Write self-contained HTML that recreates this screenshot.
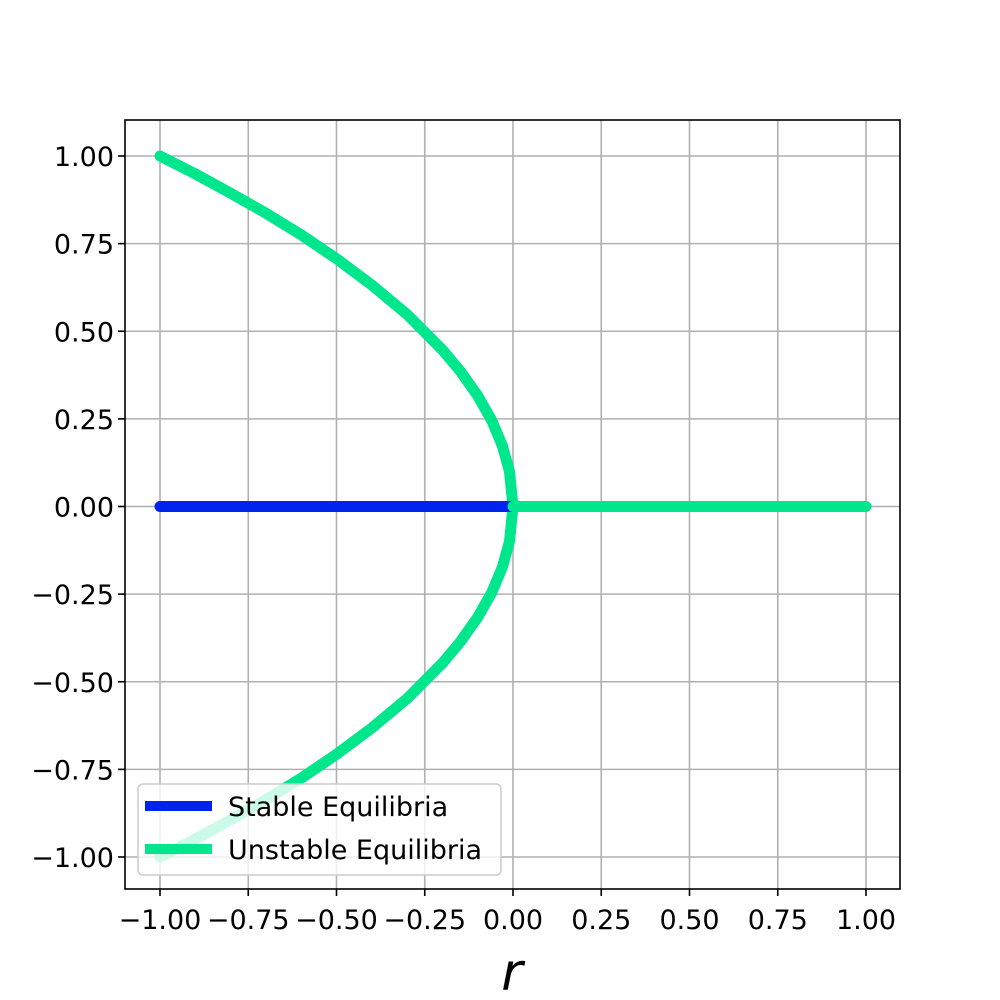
<!DOCTYPE html>
<html><head><meta charset="utf-8"><style>
body{margin:0;background:#fff}
svg{display:block;font-family:"DejaVu Sans","Liberation Sans",sans-serif}
</style></head><body>
<svg id="chart" width="1000" height="1000">
<rect width="1000" height="1000" fill="#fff"/>
<g id="grid"></g>
<g id="marks"></g>
<rect x="125" y="120" width="775" height="769" fill="none" stroke="#000" stroke-width="1.6"/>
<g id="ticks"></g>
<text x="512" y="990" font-size="52" font-style="italic" text-anchor="middle">r</text>
<g>
<rect x="138" y="784" width="363" height="91" rx="5" fill="#fff" fill-opacity="0.8" stroke="#ccc" stroke-width="1.5"/>
<line x1="145" y1="806" x2="212" y2="806" stroke="#0022ee" stroke-width="10"/>
<text x="228" y="816" font-size="27">Stable Equilibria</text>
<line x1="145" y1="849" x2="212" y2="849" stroke="#00e68c" stroke-width="10"/>
<text x="228" y="859" font-size="27">Unstable Equilibria</text>
</g>
</svg>
<script>
const tickVals = [-1,-0.75,-0.5,-0.25,0,0.25,0.5,0.75,1];
const tickLabels = ["\u22121.00","\u22120.75","\u22120.50","\u22120.25","0.00","0.25","0.50","0.75","1.00"];
const branchR = [-1,-0.9,-0.8,-0.7,-0.6,-0.5,-0.4,-0.3,-0.2,-0.15,-0.1,-0.06,-0.03,-0.01,0];
const branchX = [1,0.949,0.894,0.837,0.775,0.707,0.632,0.548,0.447,0.387,0.316,0.245,0.173,0.1,0];
const stableR = [-1,0];
const stableX = [0,0];
const unstableR = [0,1];
const unstableX = [0,0];
const sx = v => 513 + v*353;
const sy = v => 506.5 - v*350.5;
const NS="http://www.w3.org/2000/svg";
const grid=document.getElementById('grid'), ticks=document.getElementById('ticks'), marks=document.getElementById('marks');
function mk(tag,attrs,parent){const e=document.createElementNS(NS,tag);for(const k in attrs)e.setAttribute(k,attrs[k]);parent.appendChild(e);return e;}
tickVals.forEach((v,i)=>{
  const gx=mk('line',{x1:sx(v),x2:sx(v),y1:120,y2:889,stroke:'#b0b0b0','stroke-width':1.6},grid);
  
  
  const gy=mk('line',{x1:125,x2:900,y1:sy(v),y2:sy(v),stroke:'#b0b0b0','stroke-width':1.6},grid);
  
  
  const tx=mk('line',{x1:sx(v),x2:sx(v),y1:889,y2:896,stroke:'#000','stroke-width':1.6},ticks);
  
  
  const ty=mk('line',{x1:118,x2:125,y1:sy(v),y2:sy(v),stroke:'#000','stroke-width':1.6},ticks);
  
  
  const lx=mk('text',{x:sx(v),y:929,'font-size':27,'text-anchor':'middle'},ticks);
  lx.textContent=tickLabels[i];
  
  
  const ly=mk('text',{x:114,y:sy(v)+10,'font-size':27,'text-anchor':'end'},ticks);
  ly.textContent=tickLabels[i];
  
  
});
function line(rs,xs,sign,color,name){
  const pts=rs.map((r,i)=>sx(r)+','+sy(sign*xs[i])).join(' ');
  const p=mk('polyline',{points:pts,fill:'none',stroke:color,'stroke-width':11,'stroke-linecap':'round','stroke-linejoin':'round'},marks);
  
  
}
line(branchR,branchX,1,'#00e68c','unstable-upper-branch');
line(branchR,branchX,-1,'#00e68c','unstable-lower-branch');
line(stableR,stableX,1,'#0022ee','stable-branch');
line(unstableR,unstableX,1,'#00e68c','unstable-zero-branch');
</script>
</body></html>
